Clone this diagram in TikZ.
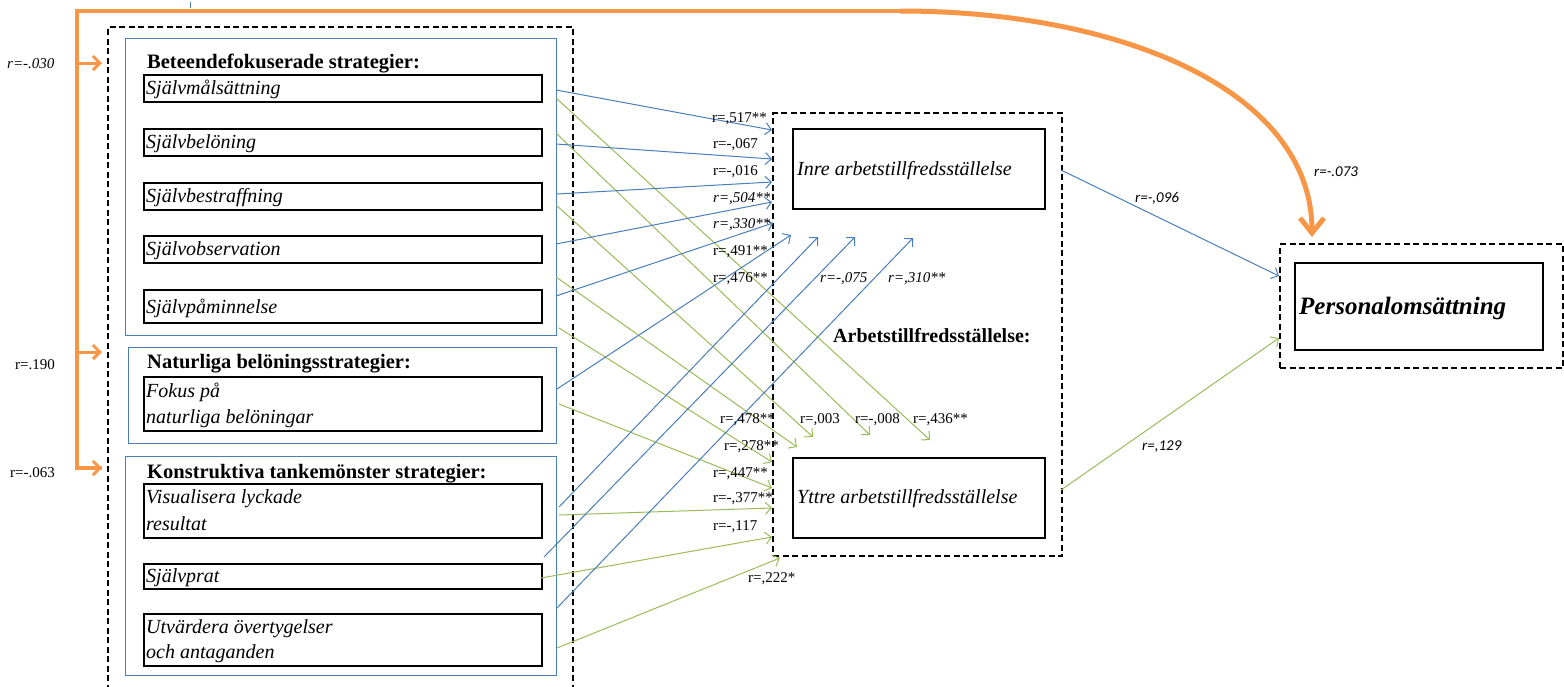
\documentclass[tikz,border=0pt]{standalone}
\usepackage{fontspec}
\setmainfont{Liberation Serif}
\newfontfamily\calib{Carlito}
\usetikzlibrary{arrows.meta}
\definecolor{oblue}{HTML}{4A7EBB}
\definecolor{ogreen}{HTML}{9BBB59}
\definecolor{oorange}{HTML}{F79646}
\tikzset{
  boxtxt/.style={anchor=base west, inner sep=0, font=\fontsize{20}{24}\selectfont\itshape},
  titletxt/.style={anchor=base west, inner sep=0, font=\fontsize{20.5}{24}\selectfont\bfseries},
  lbl/.style={anchor=base west, inner sep=0, font=\fontsize{15}{18}\selectfont},
  ilbl/.style={anchor=base west, inner sep=0, font=\fontsize{15}{18}\selectfont\itshape},
  slbl/.style={anchor=base west, inner sep=0, font=\fontsize{15}{18}\selectfont\calib\itshape},
  itembox/.style={draw=black, line width=1.6pt, anchor=north west, inner sep=0},
  grpbox/.style={draw=oblue, line width=1pt, anchor=north west, inner sep=0},
  dbox/.style={draw=black, line width=2pt, dash pattern=on 6pt off 3.5pt, anchor=north west, inner sep=0},
  barrow/.style={draw=oblue, line width=1pt, -{Straight Barb[length=6pt,width=12pt]}},
  garrow/.style={draw=ogreen, line width=1pt, -{Straight Barb[length=6pt,width=12pt]}},
  oarrow/.style={draw=oorange, line width=3pt, -{Straight Barb[length=7pt,width=14pt]}},
}
\begin{document}
\begin{tikzpicture}[x=1pt,y=-1pt]
\useasboundingbox (0,0) rectangle (1564,686);

% tiny tick
\draw[oblue, line width=1pt] (190,2) -- (190,8);

% big dashed box (open at bottom)
\draw[black, line width=2pt, dash pattern=on 6pt off 3.5pt] (108,700) -- (108,27) -- (573,27) -- (573,700);

% group boxes
\node[grpbox, minimum width=431pt, minimum height=297pt] (g1) at (125,38) {};
\node[grpbox, minimum width=428pt, minimum height=96pt] (g2) at (128,347) {};
\node[grpbox, minimum width=431pt, minimum height=219pt] (g3) at (125,456) {};

% item boxes
\node[itembox, minimum width=398pt, minimum height=27pt] (i1) at (143,74) {};
\node[itembox, minimum width=398pt, minimum height=27pt] (i2) at (143,128) {};
\node[itembox, minimum width=398pt, minimum height=27pt] (i3) at (143,182) {};
\node[itembox, minimum width=398pt, minimum height=27pt] (i4) at (143,235) {};
\node[itembox, minimum width=398pt, minimum height=33pt] (i5) at (143,289) {};
\node[itembox, minimum width=398pt, minimum height=54pt] (i6) at (143,376) {};
\node[itembox, minimum width=398pt, minimum height=54pt] (i7) at (143,483) {};
\node[itembox, minimum width=398pt, minimum height=25pt] (i8) at (143,563) {};
\node[itembox, minimum width=398pt, minimum height=52pt] (i9) at (143,613) {};

% titles and item texts
\node[titletxt] (t1) at (147,68) {Beteendefokuserade strategier:};
\node[titletxt] (t2) at (147,368) {Naturliga belöningsstrategier:};
\node[titletxt] (t3) at (147,478) {Konstruktiva tankemönster strategier:};
\node[boxtxt] (x1) at (146,94) {Självmålsättning};
\node[boxtxt] (x2) at (146,148) {Självbelöning};
\node[boxtxt] (x3) at (146,202) {Självbestraffning};
\node[boxtxt] (x4) at (146,255) {Självobservation};
\node[boxtxt] (x5) at (146,313) {Självpåminnelse};
\node[boxtxt] (x6a) at (146,397) {Fokus på};
\node[boxtxt] (x6b) at (146,423) {naturliga belöningar};
\node[boxtxt] (x7a) at (146,503) {Visualisera lyckade};
\node[boxtxt] (x7b) at (146,530) {resultat};
\node[boxtxt] (x8) at (146,582) {Självprat};
\node[boxtxt] (x9a) at (146,633) {Utvärdera övertygelser};
\node[boxtxt] (x9b) at (146,658) {och antaganden};

% middle
\node[dbox, minimum width=289pt, minimum height=443pt] (mid) at (772,112) {};
\node[itembox, minimum width=252pt, minimum height=80pt] (inre) at (792,128) {};
\node[itembox, minimum width=252pt, minimum height=80pt] (yttre) at (792,457) {};
\node[boxtxt] (inretxt) at (797,175) {Inre arbetstillfredsställelse};
\node[boxtxt] (yttretxt) at (797,503) {Yttre arbetstillfredsställelse};
\node[anchor=base west, inner sep=0, font=\fontsize{20}{24}\selectfont\bfseries] (arb) at (833,342) {Arbetstillfredsställelse:};

% right
\node[dbox, minimum width=283pt, minimum height=124pt] (pout) at (1279,243) {};
\node[itembox, minimum width=248pt, minimum height=87pt] (pin) at (1294,262) {};
\node[anchor=base west, inner sep=0, font=\fontsize{25}{30}\selectfont\bfseries\itshape] (perstxt) at (1299,314) {Personalomsättning};

% coordinates: starts
\coordinate (bs1) at (556,90);
\coordinate (bs2) at (556,144);
\coordinate (bs3) at (557,194);
\coordinate (bs4) at (556,244);
\coordinate (bs5) at (556,296);
\coordinate (bs6) at (557,389);
\coordinate (bs7) at (559,507);
\coordinate (bs8) at (544,557);
\coordinate (bs9) at (557,608);
\coordinate (be1) at (772,130);
\coordinate (be2) at (772,159);
\coordinate (be3) at (772,182);
\coordinate (be4) at (772,202);
\coordinate (be5) at (773,223);
\coordinate (be6) at (791,235);
\coordinate (be7) at (818,237);
\coordinate (be8) at (855,237);
\coordinate (be9) at (913,238);

\coordinate (gs1) at (556,98);
\coordinate (gs2) at (556,133);
\coordinate (gs3) at (556,205);
\coordinate (gs4) at (556,277);
\coordinate (gs5) at (559,328);
\coordinate (gs6) at (559,404);
\coordinate (gs7) at (559,515);
\coordinate (gs8) at (541,578);
\coordinate (gs9) at (557,648);
\coordinate (ge1) at (930,440);
\coordinate (ge2) at (870,435);
\coordinate (ge3) at (813,437);
\coordinate (ge4) at (797,447);
\coordinate (ge5) at (772,462);
\coordinate (ge6) at (772,488);
\coordinate (ge7) at (772,508);
\coordinate (ge8) at (772,537);
\coordinate (ge9) at (780,558);

\foreach \k in {1,...,9} {
  \draw[garrow] (gs\k) -- (ge\k);
}
\foreach \k in {1,...,9} {
  \draw[barrow] (bs\k) -- (be\k);
}

% right connectors
\coordinate (ri) at (1061,170);
\coordinate (ry) at (1061,490);
\coordinate (pa) at (1279,276);
\coordinate (pb) at (1279,338);
\draw[barrow] (ri) -- (pa);
\draw[garrow] (ry) -- (pb);

% orange
\coordinate (otop) at (77,11);
\coordinate (ocurve) at (900,11);
\coordinate (obot) at (77,468);
\coordinate (oa1) at (77,63);
\coordinate (oa2) at (77,352);
\coordinate (oe1) at (102,63);
\coordinate (oe2) at (102,352);
\coordinate (oe3) at (102,468);
\coordinate (otip) at (1312,237);
\draw[oorange, line width=4pt, line join=miter] (ocurve) -- (otop) -- (obot) -- (oe3);
\draw[oarrow] (obot) -- (oe3);
\draw[oarrow] (oa1) -- (oe1);
\draw[oarrow] (oa2) -- (oe2);
\draw[oorange, line width=5pt, -{Straight Barb[length=15pt,width=24pt]}] (ocurve) .. controls (1120,11) and (1312,90) .. (otip);

% labels
\node[ilbl] (l030) at (7,68) {r=-.030};
\node[lbl] (l190) at (15,369) {r=.190};
\node[lbl] (l063) at (10,477) {r=-.063};
\node[lbl] (l517) at (712,122) {r=,517**};
\node[lbl] (l067) at (713,148) {r=-,067};
\node[lbl] (l016) at (713,175) {r=-,016};
\node[ilbl] (l504) at (713,202) {r=,504**};
\node[ilbl] (l330) at (713,228) {r=,330**};
\node[lbl] (l491) at (713,255) {r=,491**};
\node[lbl] (l476) at (713,282) {r=,476**};
\node[ilbl] (l075) at (820,282) {r=-,075};
\node[ilbl] (l310) at (888,282) {r=,310**};
\node[lbl] (l478) at (720,423) {r=,478**};
\node[lbl] (l003) at (800,423) {r=,003};
\node[lbl] (l008) at (855,423) {r=-,008};
\node[lbl] (l436) at (913,423) {r=,436**};
\node[lbl] (l278) at (724,450) {r=,278**};
\node[lbl] (l447) at (713,477) {r=,447**};
\node[lbl] (l377) at (713,502) {r=-,377**};
\node[lbl] (l117) at (713,530) {r=-,117};
\node[lbl] (l222) at (748,582) {r=,222*};
\node[slbl] (l096) at (1135,202) {r=-,096};
\node[slbl] (l129) at (1142,450) {r=,129};
\node[slbl] (l073) at (1314,176) {r=-.073};
\end{tikzpicture}
\end{document}
